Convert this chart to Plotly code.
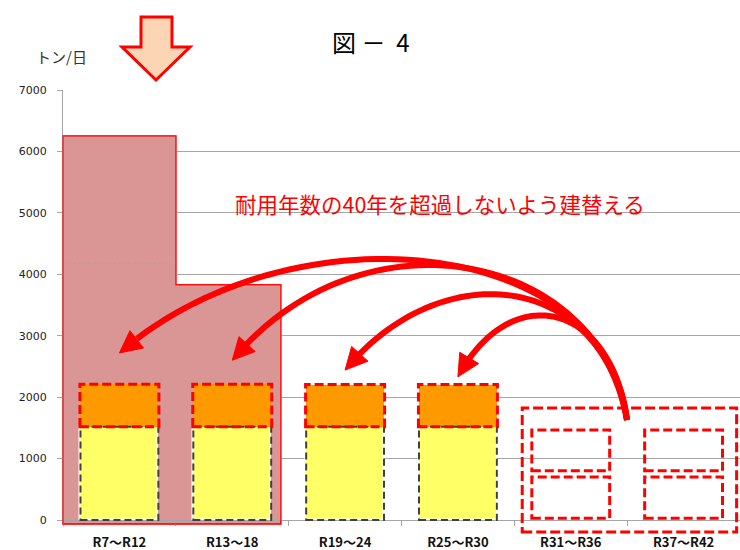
import plotly.graph_objects as go

# ---------------- data ----------------
categories = ["R7～R12", "R13～18", "R19～24", "R25～R30", "R31～R36", "R37～R42"]
existing_capacity = [6250, 3830]          # pink step area (existing facilities)
existing_width = [1.0, 0.93]
yellow_vals = [1520, 1520, 1520, 1520]    # renewed capacity (lower block)
orange_top = [2210, 2210, 2205, 2205]     # renewed capacity (upper block top)
future_idx = [4, 5]
future_lower = [[30, 700], [30, 700]]
future_upper = [[800, 1465], [800, 1465]]
future_group = [3.57, 5.47, -195, 1825]   # x0, x1, y0, y1 of big dashed frame
arrow_targets = [0, 1, 2, 3]
arrow_tip_vals = [2720, 2600, 2440, 2330]
y_ticks = [0, 1000, 2000, 3000, 4000, 5000, 6000, 7000]

# ---------------- geometry helpers ----------------
W, H = 740, 550
ML, MR, MT, MB = 63, 0, 90, 30
PW, PH = W - ML - MR, H - MT - MB
X0, X1, YMAX = -0.5, 5.5, 7000
BW = 0.69


def xpix(i):
    return ML + (i - X0) / (X1 - X0) * PW


def ypix(v):
    return MT + (1 - v / YMAX) * PH


def xpap(px):
    return (px - ML) / PW


def ypap(py):
    return (H - MB - py) / PH


def P(px, py):
    return f"{xpap(px):.5f},{ypap(py):.5f}"


def rect_path(i0, i1, v0, v1):
    return (f"M{P(xpix(i0), ypix(v0))} L{P(xpix(i1), ypix(v0))} "
            f"L{P(xpix(i1), ypix(v1))} L{P(xpix(i0), ypix(v1))} Z")


shapes = []

# pink outline (step)
pts = [(-0.5, -65), (-0.5, existing_capacity[0]), (0.5, existing_capacity[0]),
       (0.5, existing_capacity[1]), (0.5 + existing_width[1], existing_capacity[1]),
       (0.5 + existing_width[1], -65)]
path = "M" + " L".join(P(xpix(a), ypix(b)) for a, b in pts) + " Z"
shapes.append(dict(type="path", path=path, xref="paper", yref="paper",
                   fillcolor="#D99694", line=dict(color="rgba(255,0,0,0.8)", width=1.5),
                   layer="below"))
shapes.append(dict(type="path", path=path, xref="paper", yref="paper",
                   line=dict(color="rgba(255,0,0,0.75)", width=1.5), layer="above"))
# faint dotted line inside the pink area
shapes.append(dict(type="path", xref="paper", yref="paper",
                   path=f"M{P(xpix(-0.45), ypix(4180))} L{P(xpix(0.45), ypix(4180))}",
                   line=dict(color="#B0A0A0", width=1.2, dash="2px,3px"), layer="above"))

# dashed outlines of bars
for i, (yv, ot) in enumerate(zip(yellow_vals, orange_top)):
    shapes.append(dict(type="path", xref="paper", yref="paper",
                       path=rect_path(i - BW / 2, i + BW / 2, 0, yv),
                       line=dict(color="#404040", width=2, dash="7px,4px")))
    shapes.append(dict(type="path", xref="paper", yref="paper",
                       path=rect_path(i - BW / 2 - 0.005, i + BW / 2 + 0.005, yv, ot),
                       line=dict(color="#FF0000", width=3, dash="9px,4px")))

# future dashed boxes
for k, fi in enumerate(future_idx):
    for lo, hi in (future_lower[k], future_upper[k]):
        shapes.append(dict(type="path", xref="paper", yref="paper",
                           path=rect_path(fi - BW / 2, fi + BW / 2, lo, hi),
                           line=dict(color="#FF0000", width=3, dash="9px,4px")))
gx0, gx1, gy0, gy1 = future_group
shapes.append(dict(type="path", xref="paper", yref="paper",
                   path=rect_path(gx0, gx1, gy0, gy1),
                   line=dict(color="#FF0000", width=3, dash="10px,4px")))

# curved arrows (cubic bezier, pixel space)
start = (627, 420)
ctrl = [((605, 235), (290, 205)),
        ((600, 250), (360, 205)),
        ((600, 270), (440, 255)),
        ((610, 300), (510, 280))]
for tgt, tv, (c1, c2) in zip(arrow_targets, arrow_tip_vals, ctrl):
    tip = (xpix(tgt), ypix(tv))
    p0, p1, p2, p3 = start, c1, c2, tip
    n = 60
    curve = []
    for s in range(n + 1):
        t = s / n
        a, b, c, d = (1 - t) ** 3, 3 * (1 - t) ** 2 * t, 3 * (1 - t) * t ** 2, t ** 3
        curve.append((a * p0[0] + b * p1[0] + c * p2[0] + d * p3[0],
                      a * p0[1] + b * p1[1] + c * p2[1] + d * p3[1]))
    L, HW = 22, 11
    dx, dy = p3[0] - curve[-4][0], p3[1] - curve[-4][1]
    m = (dx ** 2 + dy ** 2) ** 0.5
    ux, uy = dx / m, dy / m
    line_pts = [q for q in curve if ((q[0] - p3[0]) ** 2 + (q[1] - p3[1]) ** 2) ** 0.5 > L * 0.7]
    shapes.append(dict(type="path", xref="paper", yref="paper",
                       path="M" + " L".join(P(x, y) for x, y in line_pts),
                       line=dict(color="#FF0000", width=6)))
    bx, by = p3[0] - L * ux, p3[1] - L * uy
    head = [p3, (bx - HW * uy, by + HW * ux), (bx + HW * uy, by - HW * ux)]
    shapes.append(dict(type="path", xref="paper", yref="paper",
                       path="M" + " L".join(P(x, y) for x, y in head) + " Z",
                       fillcolor="#FF0000", line=dict(color="#FF0000", width=1)))

# big down arrow at top
da = [(141, 17), (172, 17), (172, 47), (190, 47), (156, 80), (122, 47), (141, 47)]
shapes.append(dict(type="path", xref="paper", yref="paper",
                   path="M" + " L".join(P(x, y) for x, y in da) + " Z",
                   fillcolor="#FCD5B4", line=dict(color="#FF0000", width=3)))

# ---------------- traces ----------------
fig = go.Figure()
fig.add_trace(go.Bar(x=list(range(len(existing_capacity))), y=existing_capacity,
                     width=existing_width, offset=-0.5,
                     marker=dict(color="#D99694", line=dict(width=0)),
                     hoverinfo="skip", showlegend=False))
fig.add_trace(go.Bar(x=list(range(len(yellow_vals))), y=yellow_vals, width=BW,
                     marker=dict(color="#FFFF66", line=dict(color="white", width=1.5)),
                     showlegend=False))
fig.add_trace(go.Bar(x=list(range(len(orange_top))),
                     y=[o - y for o, y in zip(orange_top, yellow_vals)],
                     base=yellow_vals, width=BW,
                     marker=dict(color="#FF9900", line=dict(width=0)),
                     showlegend=False))

annotations = [
    dict(text="図\u00a0－\u00a0\u00a04", x=xpap(370), y=ypap(42), xref="paper", yref="paper",
         showarrow=False, xanchor="center", yanchor="middle",
         font=dict(family="Noto Sans CJK JP", size=24, color="#000000")),
    dict(text="トン/日", x=xpap(61), y=ypap(57), xref="paper", yref="paper",
         showarrow=False, xanchor="center", yanchor="middle",
         font=dict(family="Noto Sans CJK JP", size=15, color="#333333")),
    dict(text="耐用年数の40年を超過しないよう建替える", x=xpap(440), y=ypap(203),
         xref="paper", yref="paper", showarrow=False, xanchor="center", yanchor="middle",
         font=dict(family="Noto Sans CJK JP", size=21.5, color="#FF0000")),
]

fig.update_layout(
    width=W, height=H, autosize=False,
    margin=dict(l=ML, r=MR, t=MT, b=MB, pad=0),
    paper_bgcolor="white", plot_bgcolor="white",
    barmode="overlay", bargap=0,
    shapes=shapes, annotations=annotations,
    xaxis=dict(range=[X0, X1], tickmode="array", tickvals=list(range(len(categories))),
               ticktext=[f"<b>{c}</b>" for c in categories], ticks="",
               tickfont=dict(family="Noto Sans CJK JP", size=13, color="#111111"),
               showgrid=False, zeroline=False, showline=True, linecolor="#A6A6A6",
               linewidth=1, ticklabelstandoff=10,
               minor=dict(tickmode="array", tickvals=[X0 + k for k in range(7)],
                          ticks="outside", ticklen=5, tickcolor="#A6A6A6", showgrid=False)),
    yaxis=dict(range=[0, YMAX], tickmode="array", tickvals=y_ticks,
               ticktext=[str(v) for v in y_ticks],
               ticks="outside", ticklen=5, tickcolor="#A6A6A6",
               tickfont=dict(family="DejaVu Sans", size=11, color="#222222"),
               showgrid=True, gridcolor="#A6A6A6", gridwidth=1, zeroline=False,
               showline=True, linecolor="#A6A6A6", linewidth=1, ticklabelstandoff=8),
)

fig.write_html("out.html")
